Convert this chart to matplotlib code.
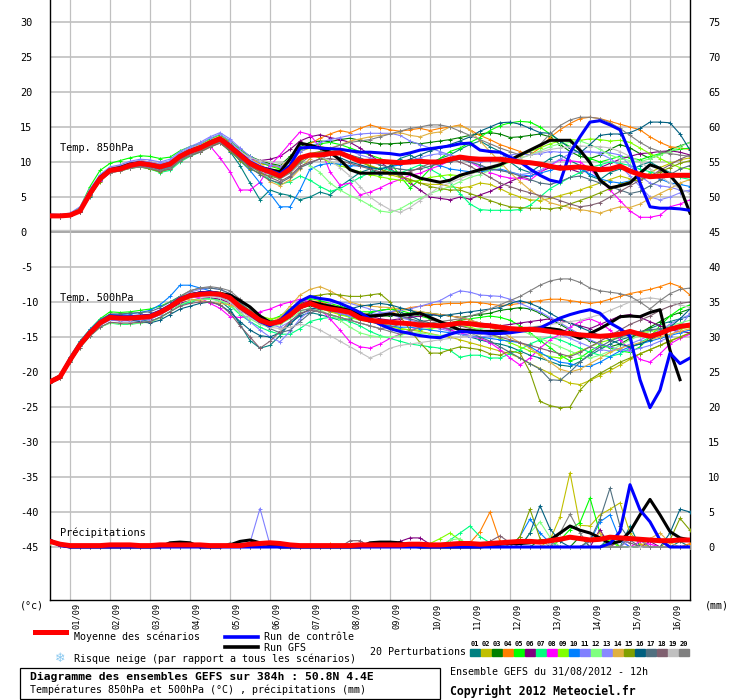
import numpy as np
import matplotlib
matplotlib.use("Agg")
import matplotlib.pyplot as plt
from matplotlib.lines import Line2D
from matplotlib.patches import Rectangle

plt.rcParams['font.family'] = ['DejaVu Sans Mono', 'DejaVu Sans']

NAN = float('nan')

# time axis: 0..384h every 6h (run of 31/08/2012 12h)
hours = np.arange(0, 385, 6)
day_labels = ['01/09', '02/09', '03/09', '04/09', '05/09', '06/09', '07/09', '08/09',
              '09/09', '10/09', '11/09', '12/09', '13/09', '14/09', '15/09', '16/09']
left_ticks = list(range(-45, 31, 5))
right_ticks = list(range(0, 76, 5))

pert_names = ['01', '02', '03', '04', '05', '06', '07', '08', '09', '10',
              '11', '12', '13', '14', '15', '16', '17', '18', '19', '20']
pert_colors = ['#008080', '#c0c000', '#008000', '#ff8000', '#00ff00', '#800080', '#00ff80',
               '#ff00ff', '#80ff00', '#0080ff', '#8080ff', '#80ff80', '#8888ff', '#e0b040',
               '#80a000', '#006080', '#507080', '#806070', '#c0c0c0', '#808080']

# ---- temperature 850 hPa (degC) ----
t850_mean = [2.3, 2.3, 2.4, 3.0, 5.5, 7.6, 8.8, 9.0, 9.5, 9.8, 9.6, 9.3, 9.7,
             10.8, 11.5, 12.0, 12.7, 13.3, 12.2, 11.0, 9.8, 9.1, 8.6, 8.0, 9.0, 10.6,
             11.0, 11.0, 11.2, 11.3, 10.7, 10.1, 10.1, 10.1, 10.0, 9.9, 10.0, 10.1, 10.0,
             10.0, 10.4, 10.7, 10.5, 10.4, 10.4, 10.4, 10.2, 10.0, 9.9, 9.7, 9.4, 9.1,
             9.2, 9.3, 9.1, 8.9, 9.0, 9.4, 8.7, 8.2, 7.9, 8.0, 8.1, 8.1, 8.1]
t850_ctrl = [2.3, 2.3, 2.4, 3.0, 5.5, 7.6, 8.8, 9.1, 9.6, 9.9, 9.7, 9.4, 9.8,
             10.9, 11.6, 12.1, 12.8, 13.4, 12.4, 11.2, 10.0, 9.3, 8.8, 8.3, 9.5, 12.0,
             12.1, 12.0, 11.9, 11.8, 11.6, 11.4, 11.4, 11.3, 11.2, 11.0, 11.3, 11.7, 11.9,
             12.1, 12.3, 12.6, 12.7, 11.7, 11.5, 11.4, 10.7, 10.0, 9.0, 8.1, 7.4, 7.1,
             11.3, 13.6, 15.7, 15.9, 15.3, 14.6, 11.3, 7.0, 3.6, 3.4, 3.4, 3.3, 3.1]
t850_gfs = [2.2, 2.3, 2.4, 3.0, 5.6, 7.8, 8.9, 9.2, 9.7, 9.9, 9.6, 9.3, 9.7,
            10.8, 11.6, 12.1, 12.8, 13.4, 12.3, 11.1, 9.9, 9.2, 8.9, 8.6, 10.4, 12.7,
            12.4, 12.0, 11.4, 10.3, 8.9, 8.4, 8.4, 8.4, 8.4, 8.4, 8.3, 7.7, 7.4,
            7.1, 7.4, 8.1, 8.5, 8.9, 9.2, 9.6, 10.3, 11.0, 11.7, 12.4, 13.1, 13.1,
            13.1, 11.7, 9.9, 7.4, 6.3, 6.6, 7.0, 8.4, 9.6, 9.1, 8.1, 6.4, 2.7]
t850_pert = [
    [2.2, 2.1, 2.3, 2.8, 5.0, 7.3, 8.6, 8.8, 9.2, 9.5, 9.0, 8.7, 9.2,
     10.4, 11.0, 11.5, 12.2, 12.8, 11.5, 9.5, 7.0, 4.6, 6.0, 5.5, 5.2, 4.6,
     5.0, 5.7, 5.3, 6.5, 7.5, 8.5, 9.0, 8.2, 9.5, 10.5, 11.0, 10.2, 9.8,
     10.5, 11.0, 11.8, 12.5, 13.0, 12.2, 11.5, 10.0, 9.0, 8.5, 9.5, 10.5, 11.0,
     10.2, 9.5, 8.0, 7.5, 8.5, 9.0, 8.8, 9.5, 10.0, 9.2, 8.5, 8.0, 7.8],
    [2.4, 2.3, 2.5, 3.2, 5.8, 7.9, 9.0, 9.2, 9.6, 9.9, 9.7, 9.4, 9.8,
     10.9, 11.6, 12.1, 12.9, 13.5, 12.6, 11.3, 10.2, 9.5, 9.8, 9.2, 10.5, 11.5,
     12.0, 12.3, 11.8, 11.5, 10.8, 10.2, 9.5, 9.0, 8.2, 7.8, 7.5, 7.0, 6.8,
     6.8, 6.5, 6.3, 6.5, 7.0, 6.8, 6.2, 5.5, 5.0, 4.6, 4.5, 4.8, 5.2,
     5.6, 6.0, 6.5, 7.0, 7.5, 8.0, 7.6, 7.2, 8.5, 9.2, 9.8, 10.3, 10.6],
    [2.3, 2.2, 2.4, 3.1, 5.7, 7.8, 9.0, 9.3, 9.8, 10.1, 9.9, 9.6, 10.0,
     11.1, 11.8, 12.3, 13.0, 13.6, 12.8, 11.8, 10.8, 10.2, 9.8, 9.5, 10.8, 12.2,
     12.8, 13.0, 12.9, 13.2, 13.4, 13.1, 12.8, 12.6, 12.6, 12.7, 12.8, 12.6, 12.8,
     13.0, 13.2, 13.5, 13.8, 14.0, 14.2, 14.0, 13.5, 13.6, 13.8, 14.0, 13.6, 12.5,
     11.5, 10.8, 10.5, 11.0, 11.8, 12.5, 12.0, 11.2, 10.5, 11.0, 11.8, 12.3, 12.8],
    [2.4, 2.4, 2.5, 3.2, 5.9, 8.0, 9.2, 9.4, 9.9, 10.2, 10.0, 9.7, 10.1,
     11.2, 11.9, 12.4, 13.1, 13.7, 12.9, 11.9, 10.5, 9.8, 9.5, 9.2, 10.2, 11.8,
     12.6, 13.4, 14.0, 14.5, 14.2, 14.8, 15.3, 14.9, 14.6, 14.4, 14.6, 14.8, 14.5,
     14.8, 15.0, 15.3, 14.6, 13.8, 13.2, 12.5, 12.0, 11.5, 11.0, 12.0, 13.5, 14.6,
     15.5, 16.2, 16.4, 16.2, 15.8, 15.4, 15.0, 14.6, 13.6, 12.8, 12.2, 12.0, 11.8],
    [2.5, 2.4, 2.6, 3.5, 6.5, 8.8, 9.8, 10.2, 10.6, 10.9, 10.8, 10.5, 10.7,
     11.6, 12.2, 12.6, 13.3, 13.9, 13.0, 11.8, 10.8, 10.0, 9.4, 9.0, 10.0, 11.8,
     12.3, 12.6, 12.8, 12.5, 12.0, 11.5, 11.0, 10.5, 10.0, 8.0, 6.3, 7.5, 9.0,
     10.5, 11.5, 12.0, 12.8, 13.5, 14.5, 15.2, 15.6, 15.8, 15.7, 15.0, 14.0, 13.0,
     12.2, 11.2, 10.5, 10.0, 10.4, 10.8, 10.6, 10.3, 10.8, 11.2, 11.6, 11.8, 12.0],
    [2.2, 2.2, 2.3, 2.9, 5.3, 7.4, 8.7, 8.9, 9.3, 9.6, 9.4, 9.1, 9.5,
     10.6, 11.3, 11.8, 12.5, 13.1, 12.1, 11.2, 10.5, 10.2, 10.4, 10.8, 11.8, 13.0,
     13.6, 13.9, 13.5, 13.2, 12.8, 12.0, 11.0, 10.0, 9.0, 8.2, 7.0, 6.0, 5.0,
     4.8, 4.6, 5.0, 4.7, 5.3, 5.8, 6.5, 7.2, 7.8, 8.0, 8.6, 9.2, 9.5,
     9.0, 8.5, 8.8, 9.2, 9.8, 10.4, 10.8, 11.2, 11.3, 11.5, 11.6, 11.4, 11.0],
    [2.3, 2.2, 2.4, 3.0, 5.4, 7.5, 8.6, 8.8, 9.1, 9.3, 9.0, 8.5, 8.8,
     10.0, 10.8, 11.4, 12.2, 12.9, 12.0, 10.8, 9.5, 8.5, 7.5, 6.8, 7.2, 8.0,
     7.4, 6.5, 5.8, 6.2, 7.0, 7.8, 8.5, 9.2, 8.8, 8.4, 9.0, 9.6, 9.0,
     8.2, 7.0, 5.5, 4.0, 3.2, 3.1, 3.1, 3.1, 3.2, 3.8, 5.0, 6.2, 7.0,
     7.8, 8.5, 9.2, 9.6, 10.0, 9.8, 9.5, 9.0, 8.6, 8.2, 8.0, 7.8, 7.5],
    [2.2, 2.2, 2.3, 2.9, 5.2, 7.3, 8.4, 8.8, 9.2, 9.5, 9.4, 9.2, 9.6,
     10.7, 11.4, 11.8, 12.3, 10.6, 8.6, 6.0, 6.0, 7.1, 9.5, 11.0, 12.7, 14.3,
     13.9, 12.1, 8.6, 6.7, 7.0, 5.3, 5.7, 6.3, 7.0, 7.5, 8.1, 8.4, 9.0,
     9.5, 10.2, 10.7, 10.0, 9.2, 8.5, 8.0, 7.7, 7.7, 7.4, 8.5, 9.5, 10.3,
     10.2, 10.0, 9.0, 7.5, 6.0, 4.5, 3.0, 2.1, 2.1, 2.4, 3.6, 4.0, 4.6],
    [2.4, 2.3, 2.5, 3.1, 5.6, 7.7, 8.9, 9.1, 9.6, 9.9, 9.8, 9.5, 9.9,
     11.0, 11.7, 12.2, 12.9, 13.5, 12.4, 11.2, 10.0, 9.4, 9.0, 8.8, 9.6, 10.8,
     11.0, 10.6, 10.0, 9.5, 9.0, 8.6, 8.2, 7.9, 7.6, 7.4, 7.2, 7.4, 7.8,
     8.0, 8.2, 8.0, 8.4, 8.6, 9.0, 9.5, 10.0, 10.8, 11.5, 12.0, 12.6, 13.0,
     13.2, 13.1, 13.3, 13.2, 13.0, 13.1, 12.8, 12.0, 11.2, 10.5, 9.8, 9.2, 9.0],
    [2.3, 2.2, 2.4, 3.0, 5.4, 7.5, 8.7, 8.9, 9.3, 9.6, 9.3, 8.9, 9.3,
     10.5, 11.2, 11.8, 12.5, 13.0, 11.8, 10.2, 8.8, 7.0, 5.5, 3.6, 3.6, 6.0,
     9.0, 9.6, 9.8, 9.7, 9.5, 9.4, 9.2, 9.0, 9.3, 9.6, 10.0, 10.2, 9.8,
     9.5, 9.0, 8.8, 8.6, 8.6, 8.8, 9.0, 8.6, 8.2, 8.0, 8.4, 8.8, 9.2,
     9.5, 9.0, 8.3, 7.6, 7.2, 7.0, 7.3, 7.8, 8.2, 7.6, 7.0, 6.8, 6.5],
    [2.6, 2.5, 2.7, 3.6, 6.2, 8.2, 9.3, 9.6, 10.1, 10.4, 10.3, 10.0, 10.4,
     11.5, 12.2, 12.8, 13.6, 14.2, 13.3, 12.0, 10.8, 10.0, 9.6, 9.3, 10.0, 11.4,
     12.2, 12.8, 13.2, 13.5, 13.8, 14.0, 14.1, 14.1, 14.1, 13.8, 13.0, 12.5, 12.0,
     11.5, 11.0, 10.6, 10.2, 10.0, 10.2, 10.6, 11.0, 11.2, 11.0, 11.2, 11.5, 11.4,
     11.4, 11.4, 11.4, 11.4, 11.3, 11.0, 9.5, 8.0, 7.0, 6.6, 6.4, 6.0, 5.8],
    [2.3, 2.3, 2.4, 3.0, 5.5, 7.6, 8.7, 9.0, 9.4, 9.6, 9.5, 9.2, 9.6,
     10.7, 11.4, 11.9, 12.6, 13.2, 12.0, 10.6, 9.4, 8.8, 8.6, 8.5, 9.5, 10.2,
     9.5, 8.5, 7.0, 6.0, 5.2, 4.6, 3.8, 3.0, 2.8, 3.3, 4.1, 4.8, 5.5,
     6.0, 6.5, 7.2, 7.8, 8.2, 8.8, 9.4, 10.0, 10.5, 11.0, 11.6, 12.2, 12.6,
     12.8, 13.0, 12.5, 11.8, 11.0, 10.5, 10.2, 10.0, 10.5, 11.0, 11.5, 12.2, 12.8],
    [2.4, 2.4, 2.5, 3.3, 5.9, 8.0, 9.1, 9.4, 9.9, 10.2, 10.0, 9.7, 10.2,
     11.3, 12.0, 12.6, 13.4, 14.0, 13.0, 11.6, 10.4, 9.5, 9.0, 8.6, 9.2, 10.5,
     11.0, 11.4, 11.8, 12.0, 11.6, 11.0, 10.6, 10.2, 10.0, 9.8, 10.2, 10.6, 11.0,
     11.2, 11.0, 10.5, 10.0, 9.5, 9.0, 8.8, 8.5, 8.2, 8.4, 8.8, 9.6, 10.4,
     11.2, 11.6, 11.5, 11.2, 10.5, 9.5, 8.0, 6.5, 5.0, 4.6, 5.0, 5.6, 6.0],
    [2.3, 2.3, 2.4, 3.1, 5.6, 7.7, 8.8, 9.1, 9.6, 9.9, 9.7, 9.4, 9.8,
     10.9, 11.6, 12.1, 12.8, 13.4, 12.3, 11.0, 9.6, 8.5, 7.2, 6.6, 7.5, 9.0,
     10.5, 11.5, 12.0, 12.4, 13.0, 13.3, 13.6, 13.8, 14.0, 14.2, 13.8, 13.6, 14.1,
     14.3, 15.0, 15.2, 14.6, 13.0, 11.5, 10.0, 8.5, 7.2, 6.0, 5.0, 4.2, 3.8,
     3.5, 3.2, 3.0, 2.7, 3.2, 3.6, 3.5, 4.0, 4.8, 5.5, 6.2, 7.0, 7.5],
    [2.2, 2.1, 2.3, 2.8, 5.1, 7.2, 8.5, 8.7, 9.1, 9.3, 9.0, 8.6, 9.0,
     10.2, 10.9, 11.5, 12.2, 12.7, 11.6, 10.2, 9.0, 8.4, 8.0, 7.6, 8.6, 10.0,
     11.2, 11.5, 11.6, 11.2, 10.6, 10.0, 9.4, 9.0, 8.5, 8.0, 7.5, 7.0, 6.5,
     6.2, 6.0, 6.0, 5.5, 5.0, 4.5, 4.0, 3.6, 3.5, 3.4, 3.4, 3.3, 3.5,
     4.0, 4.5, 5.0, 5.6, 6.2, 6.8, 7.2, 7.5, 8.0, 8.6, 9.2, 9.8, 10.2],
    [2.3, 2.2, 2.4, 3.0, 5.4, 7.5, 8.7, 9.0, 9.4, 9.7, 9.5, 9.2, 9.6,
     10.7, 11.4, 11.9, 12.6, 13.2, 12.2, 11.0, 9.7, 9.0, 8.4, 7.8, 8.8, 10.5,
     11.0, 11.3, 11.0, 10.6, 10.0, 9.6, 9.2, 9.0, 9.4, 9.8, 10.4, 11.0, 11.6,
     12.0, 12.5, 13.0, 13.6, 14.4, 15.0, 15.6, 15.7, 15.4, 14.8, 14.2, 14.1, 13.0,
     12.0, 11.3, 12.5, 13.8, 14.0, 14.0, 14.2, 14.8, 15.7, 15.7, 15.6, 14.0, 11.7],
    [2.3, 2.3, 2.4, 3.0, 5.5, 7.6, 8.8, 9.0, 9.4, 9.6, 9.4, 9.0, 9.4,
     10.6, 11.3, 11.8, 12.5, 13.0, 11.8, 10.4, 9.2, 8.2, 7.4, 7.0, 7.8, 9.2,
     9.8, 10.5, 11.0, 11.4, 11.0, 10.6, 10.0, 9.6, 9.2, 9.0, 8.8, 9.0, 9.4,
     9.8, 10.0, 10.4, 10.0, 9.6, 9.0, 8.8, 8.5, 8.0, 7.5, 7.0, 6.8, 7.2,
     7.8, 8.0, 7.5, 7.0, 6.5, 6.0, 5.5, 5.8, 6.6, 7.4, 8.2, 9.0, 9.5],
    [2.2, 2.2, 2.3, 2.9, 5.3, 7.4, 8.6, 8.8, 9.2, 9.4, 9.1, 8.7, 9.0,
     10.2, 10.9, 11.4, 12.1, 12.7, 11.7, 10.5, 9.4, 8.6, 7.8, 7.2, 8.0, 9.4,
     10.0, 10.4, 10.5, 10.2, 9.8, 9.4, 9.0, 8.6, 8.4, 8.2, 8.6, 9.2, 9.8,
     10.2, 10.4, 10.0, 9.4, 8.6, 7.8, 7.0, 6.5, 6.0, 5.6, 5.2, 5.0, 4.5,
     4.0, 3.6, 3.8, 4.2, 5.0, 5.8, 6.6, 7.4, 8.0, 8.8, 9.6, 10.4, 11.0],
    [2.4, 2.3, 2.5, 3.2, 5.7, 7.8, 9.0, 9.2, 9.7, 10.0, 9.8, 9.5, 9.9,
     11.0, 11.7, 12.2, 12.9, 13.6, 12.6, 11.5, 10.6, 10.2, 10.0, 9.8, 10.2, 10.8,
     11.0, 10.8, 10.2, 9.2, 8.0, 6.5, 5.0, 4.0, 3.2, 2.8, 3.5, 4.5, 5.5,
     6.5, 7.0, 7.6, 8.2, 8.8, 9.4, 9.8, 10.2, 10.6, 11.0, 11.4, 11.8, 12.0,
     12.2, 12.3, 12.2, 12.2, 12.0, 11.5, 10.8, 10.0, 9.0, 8.0, 7.0, 6.2, 5.5],
    [2.3, 2.2, 2.4, 3.0, 5.4, 7.4, 8.5, 8.7, 9.1, 9.3, 9.1, 8.8, 9.2,
     10.3, 11.0, 11.6, 12.3, 12.9, 12.0, 10.8, 9.6, 8.8, 8.2, 7.6, 8.4, 9.8,
     10.8, 11.4, 11.9, 12.4, 12.8, 13.0, 13.2, 13.6, 14.0, 14.4, 14.8, 15.0, 15.3,
     15.3, 15.0, 14.4, 13.8, 13.2, 12.6, 12.0, 11.5, 11.0, 11.5, 12.5, 14.0, 15.2,
     16.0, 16.4, 16.4, 16.2, 15.6, 14.8, 13.8, 12.8, 12.0, 11.5, 11.2, 11.0, 10.8],
]

# ---- temperature 500 hPa (degC) ----
t500_mean = [-21.4, -20.7, -18.3, -16.1, -14.4, -13.0, -12.2, -12.3, -12.3, -12.2, -12.1, -11.5, -10.7,
             -9.7, -9.1, -8.9, -8.8, -8.9, -9.4, -10.7, -11.6, -12.6, -13.1, -12.8, -11.9, -10.7,
             -10.2, -10.7, -11.0, -11.2, -11.5, -12.3, -12.6, -12.8, -12.9, -13.0, -13.1, -13.3, -13.3,
             -13.4, -13.2, -13.0, -13.1, -13.3, -13.4, -13.6, -13.8, -13.9, -13.9, -14.0, -14.2, -14.4,
             -14.5, -14.7, -14.8, -14.9, -14.8, -14.6, -14.2, -14.6, -14.9, -14.5, -13.9, -13.5, -13.3]
t500_ctrl = [-21.4, -20.6, -18.2, -16.0, -14.3, -12.9, -12.0, -12.1, -12.1, -12.0, -11.9, -11.3, -10.5,
             -9.5, -9.0, -8.7, -8.6, -8.8, -9.5, -10.8, -11.8, -12.8, -13.4, -12.6, -11.2, -9.9,
             -9.2, -9.5, -9.7, -10.2, -10.8, -11.5, -12.4, -13.2, -13.8, -14.2, -14.5, -14.8, -15.0,
             -15.1, -14.6, -14.2, -14.3, -14.4, -14.5, -14.5, -14.4, -14.2, -14.0, -13.7, -13.0, -12.3,
             -11.8, -11.4, -11.1, -11.6, -13.0, -13.8, -14.9, -21.1, -25.1, -22.6, -17.3, -18.8, -18.0]
t500_gfs = [-21.5, -20.8, -18.4, -16.2, -14.5, -13.0, -12.1, -12.2, -12.2, -12.1, -12.0, -11.4, -10.6,
            -9.6, -9.0, -8.7, -8.6, -8.8, -9.0, -9.8, -10.7, -12.0, -12.9, -12.9, -12.0, -10.8,
            -10.0, -10.3, -10.6, -10.9, -11.2, -11.8, -12.0, -11.9, -11.7, -11.9, -11.8, -11.6, -12.2,
            -12.8, -13.4, -14.0, -14.1, -14.2, -14.2, -14.2, -14.0, -13.9, -13.8, -13.7, -13.8, -14.0,
            -14.6, -15.2, -14.5, -13.8, -13.0, -12.1, -12.0, -12.1, -11.5, -11.1, -16.9, -21.1, NAN]
t500_pert = [
    [-21.3, -20.5, -18.0, -15.8, -14.2, -12.8, -12.0, -12.2, -12.4, -12.5, -12.8, -12.2, -11.4,
     -10.4, -10.0, -9.6, -9.5, -9.8, -11.0, -13.2, -15.5, -16.6, -16.2, -14.8, -13.0, -12.0,
     -11.5, -11.8, -12.2, -12.6, -12.4, -12.0, -11.6, -11.2, -11.0, -11.4, -12.0, -12.6, -13.0,
     -13.5, -14.0, -14.6, -15.0, -15.4, -15.8, -16.0, -16.4, -17.0, -17.6, -18.0, -18.5, -19.0,
     -19.2, -18.5, -17.6, -16.8, -16.0, -15.4, -15.0, -14.4, -13.8, -13.2, -12.8, -12.4, -12.0],
    [-21.5, -20.8, -18.4, -16.2, -14.5, -13.1, -12.3, -12.4, -12.4, -12.3, -12.2, -11.6, -10.8,
     -9.8, -9.2, -9.0, -8.9, -9.0, -9.6, -11.0, -12.0, -12.8, -13.2, -12.6, -11.6, -10.6,
     -10.4, -10.9, -11.4, -11.8, -12.0, -12.4, -12.8, -13.2, -13.5, -13.8, -14.0, -14.2, -14.5,
     -14.8, -15.0, -15.4, -15.8, -16.2, -16.6, -17.0, -17.4, -18.0, -18.8, -19.5, -20.2, -21.0,
     -21.6, -21.8, -21.2, -20.5, -19.8, -19.0, -18.2, -17.4, -16.8, -16.2, -15.5, -15.0, -14.5],
    [-21.4, -20.7, -18.3, -16.2, -14.5, -13.1, -12.4, -12.5, -12.5, -12.4, -12.3, -11.7, -10.9,
     -9.9, -9.3, -9.0, -8.9, -9.1, -9.7, -10.8, -11.8, -12.8, -13.3, -13.0, -12.0, -10.9,
     -10.5, -10.8, -11.0, -11.2, -11.4, -11.6, -11.8, -12.0, -12.0, -11.8, -11.6, -11.4, -11.6,
     -11.8, -12.0, -12.2, -12.0, -11.8, -11.6, -11.2, -11.0, -10.8, -11.0, -11.6, -12.4, -13.2,
     -14.0, -14.8, -15.6, -16.0, -16.4, -16.0, -15.2, -14.4, -13.6, -12.8, -12.0, -11.5, -11.0],
    [-21.4, -20.6, -18.2, -16.0, -14.3, -12.9, -12.1, -12.2, -12.2, -12.1, -12.0, -11.4, -10.6,
     -9.6, -9.0, -8.8, -8.7, -8.8, -9.3, -10.4, -11.4, -12.3, -12.8, -12.4, -11.5, -10.4,
     -9.8, -10.0, -10.4, -10.8, -11.2, -11.6, -11.8, -11.8, -11.6, -11.2, -10.8, -10.6, -10.4,
     -10.3, -10.2, -10.2, -10.0, -10.1, -10.3, -10.5, -10.4, -10.2, -10.0, -9.8, -9.6, -9.6,
     -9.8, -10.0, -10.2, -10.0, -9.6, -9.2, -8.8, -8.5, -8.2, -7.8, -7.3, -7.8, -9.0],
    [-21.2, -20.4, -17.9, -15.6, -13.9, -12.4, -11.4, -11.5, -11.4, -11.2, -11.0, -10.6, -10.0,
     -9.2, -8.8, -8.6, -8.6, -8.8, -9.4, -10.6, -11.6, -12.4, -12.6, -12.0, -11.0, -10.0,
     -9.5, -9.8, -10.2, -10.6, -11.0, -11.4, -11.4, -11.2, -11.0, -11.2, -11.6, -12.0, -12.4,
     -12.8, -13.0, -12.6, -12.4, -12.2, -12.0, -12.2, -12.6, -13.4, -14.4, -15.5, -16.5, -17.6,
     -18.4, -18.0, -17.0, -16.2, -16.5, -17.0, -17.2, -16.4, -15.0, -13.4, -12.0, -11.0, -10.4],
    [-21.5, -20.8, -18.5, -16.3, -14.6, -13.2, -12.5, -12.6, -12.6, -12.5, -12.4, -11.8, -11.0,
     -10.2, -9.8, -9.5, -9.4, -9.6, -10.1, -11.2, -12.0, -12.8, -13.0, -12.4, -11.4, -10.2,
     -9.8, -10.2, -10.6, -10.9, -11.2, -11.6, -12.0, -12.4, -12.6, -12.4, -12.2, -12.0, -11.8,
     -11.8, -12.0, -12.2, -12.6, -13.0, -13.2, -13.4, -13.2, -13.0, -12.8, -12.6, -12.4, -12.6,
     -13.0, -13.4, -13.8, -13.2, -12.6, -12.0, -11.8, -12.2, -12.8, -13.4, -14.0, -14.2, -14.4],
    [-21.4, -20.7, -18.4, -16.3, -14.8, -13.6, -13.0, -13.2, -13.2, -13.0, -12.8, -12.2, -11.4,
     -10.5, -10.0, -9.6, -9.5, -9.8, -10.5, -11.8, -12.8, -13.6, -14.2, -14.6, -14.6, -13.8,
     -12.8, -12.4, -12.2, -12.4, -12.8, -13.4, -14.2, -14.8, -15.2, -15.6, -16.0, -16.2, -16.4,
     -16.6, -16.9, -17.9, -17.6, -17.6, -18.0, -18.0, -17.4, -16.8, -16.0, -15.4, -15.0, -15.4,
     -16.0, -16.6, -17.2, -17.6, -17.8, -17.4, -16.6, -15.8, -15.0, -14.4, -14.0, -13.6, -13.4],
    [-21.4, -20.7, -18.3, -16.1, -14.4, -13.0, -12.2, -12.3, -12.3, -12.2, -12.1, -11.5, -10.7,
     -9.7, -9.3, -9.4, -10.2, -10.9, -12.1, -12.2, -12.0, -11.4, -11.0, -10.4, -10.0, -9.6,
     -10.0, -11.0, -12.4, -14.0, -15.7, -16.4, -16.6, -16.0, -15.2, -14.6, -14.0, -13.6, -13.4,
     -13.6, -14.0, -14.4, -14.8, -15.2, -15.8, -16.8, -18.0, -19.0, -18.0, -16.6, -15.4, -14.6,
     -13.6, -12.8, -12.4, -13.0, -14.0, -15.4, -16.8, -18.2, -18.6, -17.4, -16.0, -15.2, -14.6],
    [-21.3, -20.6, -18.1, -15.9, -14.2, -12.8, -12.0, -12.1, -12.0, -11.9, -11.8, -11.2, -10.4,
     -9.4, -8.8, -8.6, -8.6, -8.8, -9.2, -10.4, -11.2, -12.0, -12.4, -12.2, -11.4, -10.4,
     -10.0, -10.6, -11.2, -11.8, -12.2, -12.6, -12.8, -13.0, -13.4, -13.8, -14.0, -14.0, -13.8,
     -13.6, -13.4, -13.4, -13.6, -14.0, -14.6, -15.2, -15.8, -16.4, -17.0, -17.4, -17.8, -18.0,
     -17.6, -17.0, -16.4, -15.8, -15.4, -15.0, -14.6, -14.4, -14.2, -14.0, -13.8, -13.8, -13.6],
    [-21.2, -20.4, -17.8, -15.6, -13.9, -12.5, -11.8, -11.8, -11.7, -11.5, -11.2, -10.4, -9.2,
     -7.6, -7.6, -8.0, -8.4, -8.7, -9.2, -10.4, -11.4, -12.2, -12.8, -12.6, -11.6, -10.6,
     -10.4, -10.8, -11.2, -11.6, -12.0, -12.4, -12.8, -13.2, -13.4, -13.6, -13.6, -13.8, -14.0,
     -14.2, -14.4, -14.6, -14.8, -15.0, -15.2, -15.4, -15.6, -15.8, -16.4, -17.2, -18.0, -18.6,
     -18.8, -19.2, -19.2, -18.6, -17.8, -17.0, -16.4, -16.0, -15.6, -15.2, -14.8, -14.4, -14.0],
    [-21.5, -20.8, -18.5, -16.3, -14.6, -13.3, -12.6, -12.7, -12.7, -12.6, -12.5, -11.8, -10.9,
     -9.8, -9.2, -9.0, -9.0, -9.3, -10.0, -11.4, -12.8, -14.0, -15.0, -15.7, -14.2, -12.4,
     -11.2, -11.0, -11.2, -11.6, -12.0, -12.0, -11.8, -11.6, -11.4, -11.2, -11.0, -10.6, -10.2,
     -9.8, -9.0, -8.4, -8.6, -9.0, -9.1, -9.2, -9.6, -10.2, -10.8, -11.4, -12.2, -13.0,
     -13.8, -14.6, -15.4, -16.0, -16.4, -16.8, -17.0, -16.6, -16.2, -15.6, -15.0, -13.6, -11.6],
    [-21.5, -20.9, -18.6, -16.5, -14.9, -13.6, -13.0, -13.1, -13.1, -13.0, -12.9, -12.3, -11.4,
     -10.4, -9.8, -9.6, -9.6, -9.8, -10.4, -11.6, -12.4, -13.2, -13.6, -13.2, -12.4, -11.4,
     -10.8, -11.2, -11.8, -12.6, -13.6, -14.4, -14.8, -15.0, -15.0, -14.8, -14.4, -14.4, -14.6,
     -14.8, -14.6, -14.2, -14.0, -13.8, -13.6, -13.4, -13.6, -14.0, -14.6, -15.2, -15.8, -16.4,
     -17.0, -17.6, -18.0, -17.6, -17.0, -16.2, -15.4, -14.8, -14.2, -13.8, -13.4, -13.0, -12.6],
    [-21.4, -20.7, -18.3, -16.1, -14.4, -13.0, -12.2, -12.3, -12.3, -12.2, -12.1, -11.5, -10.7,
     -9.6, -8.6, -8.2, -8.0, -8.2, -8.8, -10.0, -11.4, -12.6, -13.2, -13.6, -12.8, -11.8,
     -11.0, -10.6, -10.2, -10.0, -10.2, -10.6, -11.0, -11.4, -11.8, -12.2, -12.6, -13.0, -13.4,
     -13.8, -14.2, -14.6, -15.0, -15.0, -14.8, -14.4, -14.0, -13.8, -13.6, -13.8, -14.2, -14.6,
     -15.2, -15.8, -16.4, -16.8, -17.0, -16.6, -16.0, -15.4, -14.8, -14.0, -13.2, -12.4, -11.8],
    [-21.4, -20.6, -18.2, -16.0, -14.3, -12.9, -12.1, -12.2, -12.2, -12.1, -12.0, -11.4, -10.6,
     -9.8, -9.6, -9.8, -10.0, -10.2, -10.4, -11.0, -11.8, -12.6, -13.0, -12.2, -10.6, -9.0,
     -8.2, -7.8, -8.4, -9.2, -10.0, -10.4, -10.6, -10.7, -10.8, -11.0, -11.2, -11.4, -11.6,
     -11.8, -12.0, -12.2, -12.6, -13.0, -13.6, -14.2, -15.0, -15.8, -16.6, -17.6, -18.6, -19.6,
     -20.0, -19.6, -18.8, -18.0, -17.2, -16.6, -16.2, -15.8, -15.4, -15.0, -14.6, -14.2, -13.8],
    [-21.4, -20.6, -18.1, -15.9, -14.2, -12.8, -12.0, -12.1, -12.1, -12.0, -11.9, -11.3, -10.5,
     -9.5, -8.9, -8.6, -8.5, -8.6, -9.0, -10.2, -11.2, -12.2, -12.8, -12.6, -11.4, -10.0,
     -9.2, -9.0, -8.8, -9.0, -9.2, -9.2, -9.0, -8.8, -10.0, -12.0, -14.0, -15.8, -17.3,
     -17.3, -16.8, -16.4, -16.6, -16.8, -17.4, -17.6, -17.0, -17.3, -20.0, -24.2, -24.8, -25.1,
     -25.0, -22.6, -21.1, -20.2, -19.4, -18.6, -18.0, -17.4, -16.8, -16.2, -15.6, -15.0, -14.4],
    [-21.4, -20.7, -18.3, -16.1, -14.4, -13.0, -12.2, -12.4, -12.6, -12.8, -13.0, -12.6, -11.8,
     -11.0, -10.6, -10.2, -10.0, -10.4, -11.4, -12.8, -14.0, -14.8, -15.0, -14.4, -13.2, -11.8,
     -11.0, -10.8, -11.0, -11.2, -11.0, -10.6, -10.4, -10.2, -10.4, -10.8, -11.2, -11.6, -11.8,
     -12.0, -11.8, -11.6, -11.4, -11.2, -11.0, -10.8, -10.2, -9.8, -10.2, -10.8, -11.6, -12.4,
     -13.0, -13.6, -14.2, -14.8, -15.4, -16.0, -16.4, -16.0, -15.4, -14.6, -13.6, -12.4, -11.0],
    [-21.3, -20.5, -18.0, -15.8, -14.1, -12.6, -11.7, -11.7, -11.6, -11.5, -11.4, -10.8, -10.0,
     -9.2, -8.4, -8.0, -8.0, -8.2, -8.8, -10.0, -11.4, -12.8, -13.8, -14.4, -14.0, -12.8,
     -11.6, -11.0, -10.6, -10.8, -11.4, -12.0, -12.2, -12.0, -11.8, -12.0, -12.4, -12.8, -13.2,
     -13.6, -13.8, -14.0, -14.4, -15.0, -15.6, -16.4, -17.2, -18.0, -18.8, -19.6, -21.1, -21.2,
     -20.0, -18.6, -17.4, -16.4, -15.6, -15.0, -14.6, -14.2, -14.0, -13.8, -13.6, -13.4, -13.2],
    [-21.5, -20.9, -18.6, -16.5, -14.9, -13.6, -12.9, -13.0, -13.0, -12.9, -12.8, -12.2, -11.4,
     -10.6, -10.2, -10.0, -10.0, -10.4, -11.6, -13.4, -15.0, -16.6, -15.6, -14.2, -12.8, -11.6,
     -11.2, -11.4, -11.8, -12.2, -12.6, -13.0, -13.4, -13.8, -13.6, -13.2, -13.0, -12.8, -12.6,
     -12.8, -13.0, -13.4, -13.8, -14.2, -14.6, -15.0, -15.4, -15.8, -16.2, -16.6, -17.0, -17.4,
     -17.8, -17.2, -16.4, -15.6, -14.8, -14.0, -13.2, -12.6, -12.0, -11.2, -10.6, -10.2, -10.0],
    [-21.4, -20.7, -18.4, -16.2, -14.6, -13.2, -12.4, -12.5, -12.5, -12.4, -12.3, -11.7, -10.9,
     -9.9, -9.4, -9.2, -9.2, -9.4, -10.0, -11.2, -12.2, -13.0, -13.6, -13.8, -13.6, -13.2,
     -13.4, -14.0, -14.8, -15.6, -16.4, -17.2, -18.0, -17.4, -16.6, -16.2, -16.0, -15.8, -15.6,
     -15.4, -15.2, -15.0, -14.8, -14.6, -14.4, -14.2, -14.0, -13.8, -13.6, -13.4, -13.2, -13.0,
     -12.8, -12.6, -12.2, -11.8, -11.2, -10.6, -10.0, -9.6, -9.4, -9.6, -10.0, -10.4, -10.8],
    [-21.3, -20.6, -18.2, -16.0, -14.3, -12.9, -12.1, -12.2, -12.2, -12.1, -12.0, -11.4, -10.4,
     -9.2, -8.4, -8.0, -7.8, -8.0, -8.4, -9.6, -11.0, -12.2, -13.0, -12.8, -12.0, -11.2,
     -11.0, -11.4, -11.8, -12.2, -12.6, -13.0, -13.4, -13.8, -14.2, -14.6, -14.2, -13.6, -13.0,
     -12.8, -12.6, -12.4, -12.0, -11.6, -11.0, -10.4, -9.8, -9.2, -8.4, -7.6, -7.0, -6.7,
     -6.7, -7.2, -8.0, -8.4, -8.6, -8.8, -9.2, -10.0, -11.0, -9.8, -8.8, -8.2, -8.0],
]

# ---- precipitation (mm / 6h) ----
rr_mean = [0.8, 0.4, 0.2, 0.2, 0.2, 0.2, 0.3, 0.3, 0.3, 0.2, 0.2, 0.3, 0.3,
           0.3, 0.3, 0.3, 0.2, 0.2, 0.2, 0.2, 0.4, 0.5, 0.6, 0.5, 0.3, 0.2,
           0.2, 0.2, 0.2, 0.2, 0.2, 0.3, 0.3, 0.3, 0.3, 0.3, 0.4, 0.4, 0.3,
           0.3, 0.4, 0.5, 0.5, 0.4, 0.5, 0.6, 0.7, 0.8, 0.8, 0.7, 0.9, 1.1,
           1.4, 1.2, 1.0, 1.1, 1.4, 1.3, 1.2, 1.1, 1.0, 0.9, 0.9, 1.0, 1.0]
rr_ctrl = [0.9, 0.2, 0, 0, 0, 0, 0, 0, 0, 0, 0, 0, 0,
           0, 0, 0, 0, 0, 0, 0, 0, 0, 0, 0, 0, 0,
           0, 0, 0, 0, 0, 0, 0, 0, 0, 0, 0, 0, 0,
           0, 0, 0, 0, 0, 0, 0, 0, 0, 0, 0, 0, 0,
           0, 0, 0, 0, 0.5, 2.2, 8.9, 5.3, 3.6, 1.0, 0, 0, 0]
rr_gfs = [1.0, 0.3, 0, 0, 0, 0, 0, 0, 0, 0, 0, 0, 0.6,
          0.7, 0.6, 0, 0, 0, 0.3, 0.8, 1.0, 0.6, 0.3, 0, 0, 0,
          0, 0, 0, 0, 0, 0, 0.6, 0.7, 0.7, 0.6, 0.2, 0, 0,
          0, 0, 0, 0, 0, 0.2, 0.4, 0.5, 0.5, 0.6, 0.8, 1.0, 2.0,
          3.0, 2.4, 2.0, 1.3, 0.5, 0.8, 2.2, 4.6, 6.8, 4.6, 2.2, 1.3, 1.0]
rr_pert = [
    [0.8, 0.2, 0, 0, 0, 0, 0, 0, 0, 0, 0, 0, 0,
     0, 0, 0, 0, 0, 0, 0, 0, 0, 0.6, 0, 0, 0,
     0, 0, 0, 0, 0, 0, 0, 0, 0, 0, 0, 0, 0,
     0, 0, 0, 0, 0, 0, 0, 0, 0, 0, 0, 0, 0,
     0, 0, 0, 0, 1.5, 0, 3.0, 0, 0, 0, 0, 0.8, 0],
    [0.7, 0.2, 0, 0, 0, 0, 0, 0, 0, 0, 0, 0, 0,
     0, 0, 0, 0, 0, 0, 0, 0, 0, 0, 0, 0, 0,
     0, 0, 0, 0, 0, 0, 0, 0, 0, 0, 0, 0, 0,
     0, 0, 0, 0, 0, 0, 0, 0, 0, 0, 0, 1.0, 4.3,
     10.6, 3.1, 3.0, 4.6, 5.4, 6.3, 2.0, 0.5, 0, 0, 0, 0, 0],
    [0.9, 0.3, 0, 0, 0, 0, 0, 0, 0, 0, 0, 0, 0,
     0, 0, 0, 0, 0, 0, 0, 0, 0, 0, 0, 0, 0,
     0, 0, 0, 0, 0, 0, 0, 0, 0, 0, 0, 0, 0,
     0, 0, 0, 0, 0, 0, 0, 0, 0, 0, 1.0, 0.6, 0,
     0, 1.5, 0, 0, 0, 0, 0, 0, 0, 0, 0, 0, 0],
    [0.8, 0.2, 0, 0, 0, 0, 0, 0, 0, 0, 0, 0, 0,
     0, 0, 0, 0, 0, 0, 0, 0, 0, 0, 0, 0, 0,
     0, 0, 0.4, 0, 0, 0, 0, 0, 0, 0, 0, 0, 0,
     0, 0, 0.3, 0.6, 2.2, 5.0, 0.8, 0, 0, 0, 0, 0, 0,
     0, 0, 0, 0, 0, 0, 0, 0, 0, 0, 0, 0, 0.5],
    [0.6, 0.2, 0, 0, 0, 0, 0, 0, 0, 0, 0, 0, 0,
     0, 0, 0, 0, 0, 0, 0, 0, 0, 0, 0, 0, 0,
     0, 0, 0, 0, 0, 0, 0, 0, 0, 0, 0, 0, 0,
     0, 0, 0, 0, 0, 0, 0, 0, 0, 0, 0, 0, 1.0,
     2.5, 3.5, 7.0, 2.0, 0.8, 0, 0, 0, 0, 0, 0, 0, 0],
    [0.8, 0.2, 0, 0, 0, 0, 0, 0, 0, 0, 0, 0, 0,
     0, 0, 0, 0, 0, 0, 0, 0, 0, 0, 0, 0, 0,
     0, 0, 0, 0, 0, 0, 0, 0, 0, 0.8, 1.3, 1.3, 0.4,
     0, 0, 0, 0, 0, 0, 0, 0, 0, 0, 0, 0, 0,
     0, 0, 0, 2.5, 0, 0, 0, 0, 0.8, 0, 0, 0, 0],
    [0.9, 0.2, 0, 0, 0, 0, 0, 0, 0, 0, 0, 0, 0,
     0, 0, 0, 0, 0, 0, 0, 0, 0, 0, 0, 0, 0,
     0, 0, 0, 0, 0, 0, 0, 0, 0, 0, 0, 0, 0,
     0, 1.0, 2.0, 3.0, 1.5, 0.6, 0, 0, 0, 0, 0, 0, 0,
     0, 0, 0, 0, 0, 0, 0, 0, 0, 0, 0, 0, 0],
    [0.7, 0.2, 0, 0, 0, 0, 0, 0, 0, 0, 0, 0, 0,
     0, 0, 0, 0, 0, 0, 0, 0, 0, 0, 0, 0, 0,
     0, 0, 0, 0, 0, 0, 0, 0, 0, 0, 0, 0, 0,
     0, 0, 0, 0, 0, 0, 0, 0, 0, 0, 0, 0, 0,
     0, 0, 0, 0, 0, 1.0, 0, 0.8, 0.4, 0, 0, 0, 0],
    [0.8, 0.3, 0, 0, 0, 0, 0, 0, 0, 0, 0, 0, 0,
     0, 0, 0, 0, 0, 0, 0, 0, 0, 0, 0, 0, 0,
     0, 0, 0, 0, 0, 0, 0, 0, 0, 0, 0, 0, 0.5,
     1.2, 2.0, 1.0, 0, 0, 0, 0, 0, 0, 0, 0, 0, 0,
     0, 0, 0, 0, 1.0, 0, 0, 0, 0, 0, 0, 0, 0],
    [0.8, 0.2, 0, 0, 0, 0, 0, 0, 0, 0, 0, 0, 0,
     0, 0, 0, 0, 0, 0, 0, 0, 0, 0, 0, 0, 0,
     0, 0, 0, 0, 0, 0, 0, 0, 0, 0, 0, 0, 0,
     0, 0, 0, 0, 0, 0, 0, 0, 1.5, 4.0, 2.0, 0.6, 0,
     0, 0, 0.8, 3.6, 4.6, 1.0, 0, 0, 0, 0, 0, 0, 0],
    [0.9, 0.2, 0, 0, 0, 0, 0, 0, 0, 0, 0, 0, 0,
     0, 0, 0, 0, 0, 0, 0, 0.6, 5.5, 0.3, 0, 0, 0,
     0, 0, 0, 0, 0, 0, 0, 0, 0, 0, 0, 0, 0,
     0, 0, 0, 0, 0, 0, 0, 0, 0, 0, 0, 0, 0,
     0, 0, 0, 0, 0, 0, 0, 0, 0, 0, 0, 0, 0],
    [0.7, 0.2, 0, 0, 0, 0, 0, 0, 0, 0, 0, 0, 0,
     0, 0, 0, 0, 0, 0, 0, 0, 0, 0, 0, 0, 0,
     0, 0, 0, 0, 0, 0, 0, 0, 0, 0, 0, 0, 0,
     0, 1.0, 1.2, 0, 0, 0, 0, 0, 0, 2.0, 3.6, 1.4, 0,
     0, 0, 0, 0, 0, 0, 0, 0, 0, 0, 0, 0, 0],
    [0.8, 0.2, 0, 0, 0, 0, 0, 0, 0, 0, 0, 0, 0,
     0, 0, 0, 0, 0, 0, 0, 0, 0, 0, 0, 0, 0,
     0, 0, 0, 0, 0, 0, 0, 0, 0, 0, 0, 0, 0,
     0, 0, 0, 0, 0, 0, 0, 0, 0, 0, 0, 0, 0,
     0, 0, 0, 0, 0, 0, 1.0, 1.2, 0, 0, 0, 0, 0],
    [0.6, 0.2, 0, 0, 0, 0, 0, 0, 0, 0, 0, 0, 0,
     0, 0, 0, 0, 0, 0, 0, 0, 0, 0, 0, 0, 0,
     0, 0, 0, 0, 0, 0, 0, 0, 0, 0, 0, 0, 0,
     0, 0, 0, 0, 0, 0, 0, 0, 0, 0, 0, 0, 0,
     0, 0, 1.0, 2.0, 0, 0, 0, 0, 1.2, 2.0, 0.6, 0, 0],
    [0.8, 0.2, 0, 0, 0, 0, 0, 0, 0, 0, 0, 0, 0,
     0, 0, 0, 0, 0, 0, 0, 0, 0, 0, 0, 0, 0,
     0, 0, 0, 0, 0, 0, 0, 0, 0, 0, 0, 0, 0,
     0, 0, 0, 0, 0, 0, 0, 0, 1.5, 5.4, 1.2, 0, 0,
     0, 0, 0, 0, 0, 0, 0, 0, 0, 0, 1.0, 4.1, 2.4],
    [0.9, 0.2, 0, 0, 0, 0, 0, 0, 0, 0, 0, 0, 0,
     0, 0, 0, 0, 0, 0, 0, 0, 0, 0, 0, 0, 0,
     0, 0, 0, 0, 0, 0, 0, 0, 0, 0, 0, 0, 0,
     0, 0, 0, 0, 0, 0, 0, 0, 0, 2.0, 5.9, 2.6, 0.8,
     0, 0, 0, 0, 0, 0, 0, 0, 0, 0, 2.0, 5.4, 5.0],
    [0.8, 0.2, 0, 0, 0, 0, 0, 0, 0, 0, 0, 0, 0,
     0, 0, 0, 0, 0, 0, 0, 0, 0, 0, 0, 0, 0,
     0, 0, 0, 0, 0, 0, 0, 0, 0, 0, 0, 0, 0,
     0, 0, 0, 0, 0, 0, 0, 0, 0, 0, 0, 0, 0,
     0, 0, 1.0, 4.0, 8.4, 3.0, 1.0, 0, 0, 0, 0, 0, 0],
    [0.7, 0.2, 0, 0, 0, 0, 0, 0, 0, 0, 0, 0, 0,
     0, 0, 0, 0, 0, 0, 0, 0, 0, 0, 0, 0, 0,
     0, 0, 0, 0, 0.9, 0.9, 0, 0, 0, 0, 0, 0, 0,
     0, 0, 0, 0, 0, 0.8, 1.6, 0.6, 0, 0, 0, 0, 0,
     0, 0, 0, 0, 0, 1.0, 0.6, 0, 0, 0, 0, 0, 0],
    [0.8, 0.2, 0, 0, 0, 0, 0, 0, 0, 0, 0, 0, 0,
     0, 0, 0, 0, 0, 0, 0, 0, 0, 0, 0, 0, 0,
     0, 0, 0, 0, 0, 0, 0, 0, 0, 0, 0, 0, 0,
     0, 0, 0, 0, 0, 0, 0, 0, 0, 0, 0, 0.5, 0,
     0, 0, 0, 0, 0, 0, 0, 0, 0, 0, 0, 0, 0],
    [0.9, 0.2, 0, 0, 0, 0, 0, 0, 0, 0, 0, 0, 0,
     0, 0, 0, 0, 0, 0.6, 0, 0, 0, 0, 0, 0, 0,
     0, 0, 0, 0, 0, 0, 0, 0, 0, 0, 0, 0, 0,
     0, 0, 0, 0, 0, 0, 0, 0, 0, 0, 0, 0, 2.0,
     4.7, 2.0, 0, 0, 0, 0, 1.5, 1.0, 0, 0, 0, 0, 0],
]

for name, s in [('t850_mean', t850_mean), ('t850_ctrl', t850_ctrl), ('t850_gfs', t850_gfs),
                ('t500_mean', t500_mean), ('t500_ctrl', t500_ctrl), ('t500_gfs', t500_gfs),
                ('rr_mean', rr_mean), ('rr_ctrl', rr_ctrl), ('rr_gfs', rr_gfs)]:
    assert len(s) == len(hours), (name, len(s))
for grp, lst in [('t850', t850_pert), ('t500', t500_pert), ('rr', rr_pert)]:
    for k, s in enumerate(lst):
        assert len(s) == len(hours), (grp, k + 1, len(s))

# ---------------------------------------------------------------
W, H = 740, 700


def fx(x):
    return x / W


def fy(y):
    return 1 - y / H


fig = plt.figure(figsize=(W / 100, H / 100), dpi=100)
fig.patch.set_facecolor('white')

# plot box from x=50..690 px, y=0..600 px ; 5 degC per 35 px, 30 at y=22, 0 at y=232
y_top = 30 + 22 / 7
y_bot = 30 - 578 / 7
ax = fig.add_axes([fx(50), fy(600), 640 / W, 600 / H])
ax.set_xlim(0, 384)
ax.set_ylim(y_bot, y_top)
ax.set_xticks([])
ax.set_yticks(left_ticks)
ax.set_yticklabels([str(v) for v in left_ticks])
ax.tick_params(axis='y', length=0, pad=21.6, labelsize=7.4)
for lb in ax.get_yticklabels():
    lb.set_horizontalalignment('left')
ax.spines['top'].set_visible(False)
for s in ['left', 'right', 'bottom']:
    ax.spines[s].set_linewidth(1.0)
    ax.spines[s].set_color('black')

# twin axis: right labels and precipitation (0 mm at -45 degC)
axr = ax.twinx()
axr.set_ylim(y_bot + 45, y_top + 45)
axr.set_yticks(right_ticks)
axr.set_yticklabels([str(v) for v in right_ticks])
axr.tick_params(axis='y', length=0, pad=13, labelsize=7.4)
for s in axr.spines.values():
    s.set_visible(False)

# grid
for v in left_ticks:
    if v == 0:
        continue
    ax.axhline(v, color='#c0c0c0', lw=1.2, zorder=0)
ax.axhline(0.3, color='#c8c8c8', lw=1.0, zorder=0)
ax.axhline(0.0, color='#9a9a9a', lw=1.2, zorder=0)
for k in range(len(day_labels)):
    ax.axvline(12 + 24 * k, color='#c0c0c0', lw=0.9, zorder=0)
    ax.text(12 + 24 * k + 4.2, -0.004, day_labels[k], rotation=90, ha='center', va='top',
            fontsize=6.2, transform=ax.get_xaxis_transform())


def draw_panel(a, pert, gfs, ctrl, mean):
    for k, s in enumerate(pert):
        a.plot(hours, s, color=pert_colors[k], lw=0.8, marker='+', ms=3, mew=0.7, zorder=2)
    a.plot(hours, gfs, color='black', lw=2.2, zorder=3)
    a.plot(hours, ctrl, color='#0000ff', lw=2.2, zorder=4)
    a.plot(hours, mean, color='#ff0000', lw=3.6, zorder=5)


draw_panel(ax, t850_pert, t850_gfs, t850_ctrl, t850_mean)
draw_panel(ax, t500_pert, t500_gfs, t500_ctrl, t500_mean)
draw_panel(axr, rr_pert, rr_gfs, rr_ctrl, rr_mean)

ax.text(6, 12, 'Temp. 850hPa', fontsize=7.4, va='center', ha='left', zorder=6)
ax.text(6, -9.4, 'Temp. 500hPa', fontsize=7.4, va='center', ha='left', zorder=6)
ax.text(6, -42.9, 'Précipitations', fontsize=7.4, va='center', ha='left', zorder=6)

# ---- captions / legend (figure pixels) ----
fig.text(fx(20), fy(606), '(°c)', fontsize=7.2, va='center', ha='left')
fig.text(fx(705), fy(606), '(mm)', fontsize=7.2, va='center', ha='left')

fig.add_artist(Line2D([fx(35), fx(66)], [fy(632), fy(632)], color='#ff0000', lw=3.6,
                      transform=fig.transFigure))
fig.text(fx(74), fy(637), 'Moyenne des scénarios', fontsize=7.2, va='center', ha='left')
fig.add_artist(Line2D([fx(225), fx(258)], [fy(637), fy(637)], color='#0000ff', lw=2.6,
                      transform=fig.transFigure))
fig.text(fx(264), fy(637), 'Run de contrôle', fontsize=7.2, va='center', ha='left')
fig.add_artist(Line2D([fx(225), fx(258)], [fy(647), fy(647)], color='black', lw=2.6,
                      transform=fig.transFigure))
fig.text(fx(264), fy(648), 'Run GFS', fontsize=7.2, va='center', ha='left')
fig.text(fx(60), fy(659), '❄', fontsize=9, color='#88c8f0', va='center', ha='center',
         family=['DejaVu Sans'])
fig.text(fx(74), fy(659), 'Risque neige (par rapport a tous les scénarios)', fontsize=7.2,
         va='center', ha='left')

fig.text(fx(370), fy(652), '20 Perturbations', fontsize=7.2, va='center', ha='left')
for k, c in enumerate(pert_colors):
    x0 = 470 + 11 * k
    fig.add_artist(Rectangle((fx(x0), fy(656)), 10 / W, 7 / H, color=c,
                             transform=fig.transFigure))
    fig.text(fx(x0 + 5), fy(644), pert_names[k], fontsize=5.0, va='center', ha='center',
             weight='bold')

fig.add_artist(Rectangle((fx(20), fy(699)), 420 / W, 31 / H, fill=False, ec='black', lw=0.9,
                         transform=fig.transFigure))
fig.text(fx(30), fy(677), 'Diagramme des ensembles GEFS sur 384h : 50.8N 4.4E', fontsize=8.2,
         weight='bold', va='center', ha='left')
fig.text(fx(30), fy(690), 'Températures 850hPa et 500hPa (°C) , précipitations (mm)',
         fontsize=7.2, va='center', ha='left')
fig.text(fx(450), fy(672), 'Ensemble GEFS du 31/08/2012 - 12h', fontsize=7.2, va='center',
         ha='left')
fig.text(fx(450), fy(691), 'Copyright 2012 Meteociel.fr', fontsize=8.3, weight='bold',
         va='center', ha='left')

fig.savefig('out.png', dpi=100)
